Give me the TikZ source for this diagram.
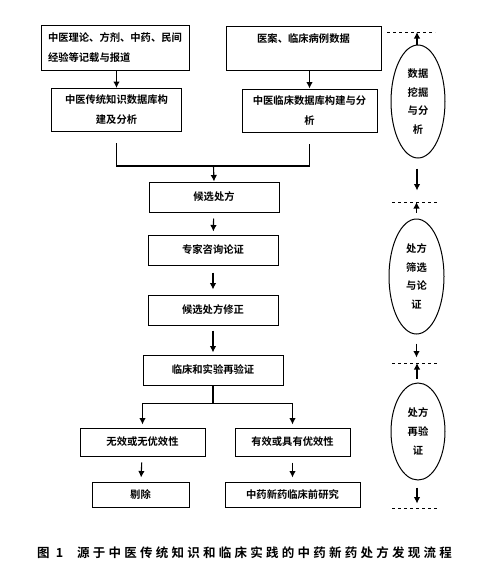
\documentclass[tikz,border=0pt]{standalone}
\usepackage{fontspec}
\newfontfamily\cjk{Noto Sans CJK SC}[BoldFont={* Bold}]
\usetikzlibrary{arrows.meta,shapes.geometric,positioning}

\begin{document}
\begin{tikzpicture}[x=1pt,y=-1pt,
    box/.style={draw,line width=1pt,align=center,inner sep=0pt,
      font=\cjk\bfseries\fontsize{10.3}{20}\selectfont},
    oval/.style={draw,ellipse,line width=1pt,inner sep=0pt,align=center,
      minimum width=54pt,font=\cjk\bfseries\fontsize{10.3}{18.7}\selectfont},
    arr/.style={line width=1.1pt,-{Latex[length=6.5pt,width=6.5pt]}},
    sep/.style={dashed,line width=0.7pt}]
  \useasboundingbox (0,0) rectangle (493,579);
  % sources and databases
  \node[box,minimum width=148pt,minimum height=45pt,align=left] (lit) at (115,47.5)
    {中医理论、方剂、中药、民间\\经验等记载与报道};
  \node[box,minimum width=155pt,minimum height=44pt] (cases) at (303.5,48)
    {医案、临床病例数据\\[-6pt]\strut};
  \node[box,minimum width=130pt,minimum height=43pt] (kdb) at (116.5,110)
    {中医传统知识数据库构\\建及分析};
  \node[box,minimum width=135pt,minimum height=43pt] (cdb) at (309.5,110.5)
    {中医临床数据库构建与分\\析};
  \draw[arr] (kdb.north |- lit.south) -- (kdb.north);
  \draw[arr] (cdb.north |- cases.south) -- (cdb.north);
  % main chain
  \node[box,minimum width=130pt,minimum height=30pt] (cand) at (214,197) {候选处方};
  \node[box,minimum width=130pt,minimum height=30pt] (expert) at (213,250) {专家咨询论证};
  \node[box,minimum width=130pt,minimum height=30pt] (revise) at (213,310) {候选处方修正};
  \node[box,minimum width=140pt,minimum height=30pt] (verify) at (213,370) {临床和实验再验证};
  \coordinate (jn) at (213.5,166);
  \draw[line width=1.1pt] ([yshift=-11pt]kdb.south) -- (kdb.south |- jn)
    -- (cdb.south |- jn) -- ([yshift=-11pt]cdb.south);
  \draw[arr] (jn) -- (cand.north);
  \draw[arr,shorten <=6pt,shorten >=3pt] (cand) -- (expert);
  \draw[arr,shorten <=7pt,shorten >=5pt] (expert) -- (revise);
  \draw[arr,shorten <=5pt,shorten >=2pt] (revise) -- (verify);
  % outcomes
  \node[box,minimum width=125pt,minimum height=28pt] (fail) at (142.5,442) {无效或无优效性};
  \node[box,minimum width=115pt,minimum height=28pt] (pass) at (292.5,442) {有效或具有优效性};
  \node[box,minimum width=97pt,minimum height=25pt] (drop) at (140.5,494.5) {剔除};
  \node[box,minimum width=135pt,minimum height=25pt] (pre) at (292.5,494.5) {中药新药临床前研究};
  \draw[line width=1.1pt] (verify.south) -- ++(0,18) coordinate (sp);
  \draw[arr,shorten >=3pt] (sp) -| (fail.north);
  \draw[arr,shorten >=3pt] (sp) -| (pass.north);
  \draw[arr,shorten <=6pt,shorten >=4pt] (fail) -- (drop);
  \draw[arr,shorten <=6pt,shorten >=4pt] (pass) -- (pre);
  % stages on the right
  \node[oval,minimum height=113pt] (mine) at (418,101.5) {数据\\挖掘\\与分\\析};
  \node[oval,minimum width=55pt,minimum height=115pt] (screen) at (416.5,276.5) {处方\\筛选\\与论\\证};
  \node[oval,minimum height=97pt] (recheck) at (418,431.5) {处方\\再验\\证};
  \draw[sep] (387,32) -- (435,32) coordinate (d1);
  \draw[sep] (392,202) -- (439,202) coordinate (d2);
  \draw[sep] (392,363) -- (438,363) coordinate (d3);
  \draw[sep] (392,508) -- (438,508) coordinate (d4);
  \draw[arr] ([xshift=-1pt]mine.north) -- ([xshift=-1pt]mine.north |- d1);
  \draw[arr] ([yshift=-10pt,xshift=-1pt]mine.south) -- ++(0,22);
  \draw[arr,shorten <=6pt] (screen.north) -- (screen.north |- d2);
  \draw[arr] ([yshift=-9pt]screen.south) -- ++(0,14);
  \draw[arr,shorten <=4pt] ([xshift=-1pt]recheck.north) -- ([xshift=-1pt]recheck.north |- d3);
  \draw[arr] ([yshift=-7pt,xshift=-1pt]recheck.south) -- ++(0,16);
  % caption
  \node[anchor=west,inner sep=0pt,font=\cjk\bfseries\fontsize{12.5}{15}\selectfont\addfontfeature{LetterSpace=26}]
    (cap) at (37,553) {图\enspace 1\hspace{1.1em}源于中医传统知识和临床实践的中药新药处方发现流程};
\end{tikzpicture}
\end{document}
